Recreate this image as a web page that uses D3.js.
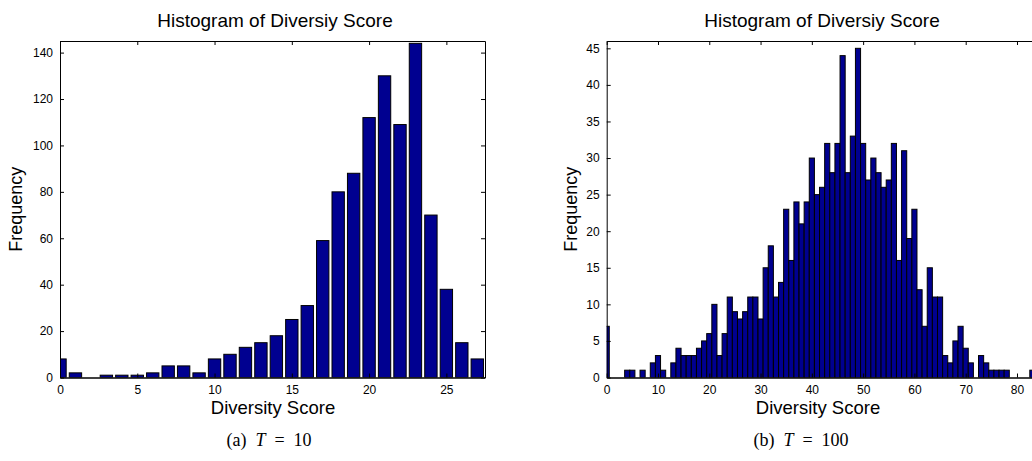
<!DOCTYPE html>
<html>
<head>
<meta charset="utf-8">
<script src="https://cdnjs.cloudflare.com/ajax/libs/d3/7.8.5/d3.min.js"></script>
<style>
  body { margin: 0; background: #fff; }
  svg { display: block; }
  .tick text { font-family: "Liberation Sans", Arial, sans-serif; font-size: 12px; fill: #000; }
  .tick line, .domain { stroke: #000; }
</style>
</head>
<body>
<div id="chart"></div>
<script>
// T = 10 panel (bins 0..27)
var countsT10 = [8, 2, 0, 1, 1, 1, 2, 5, 5, 2, 8, 10, 13, 15, 18, 25, 31, 59, 80, 88, 112, 130, 109, 144, 70, 38, 15, 8];
// T = 100 panel (bins 0..83)
var countsT100 = [7, 0, 0, 0, 1, 1, 0, 1, 0, 2, 3, 1, 0, 2, 4, 3, 3, 3, 4, 5,
    6, 10, 3, 6, 11, 9, 8, 9, 11, 11, 8, 15, 18, 11, 13, 23, 16, 24, 21, 24,
    30, 25, 26, 32, 28, 32, 44, 28, 33, 45, 32, 27, 30, 28, 26, 27, 32, 16, 31, 19,
    23, 12, 7, 15, 11, 11, 3, 2, 5, 7, 4, 2, 0, 3, 2, 1, 1, 1, 1, 0,
    0, 0, 0, 1];

var xTicksT10 = [0, 5, 10, 15, 20, 25];
var yTicksT10 = [0, 20, 40, 60, 80, 100, 120, 140];
var xTicksT100 = [0, 10, 20, 30, 40, 50, 60, 70, 80];
var yTicksT100 = [0, 5, 10, 15, 20, 25, 30, 35, 40, 45];

var titleText = "Histogram of Diversiy Score";
var xLabelText = "Diversity Score";
var yLabelText = "Frequency";

var svgWidth = 1032;
var svgHeight = 461;

var svg = d3.select("#chart")
    .append("svg")
    .attr("width", svgWidth)
    .attr("height", svgHeight);

var barFill = "#000090";
var sans = "'Liberation Sans', Arial, sans-serif";
var serif = "'Liberation Serif', 'Times New Roman', serif";

function drawPanel(opt) {
    var x = d3.scaleLinear().domain(opt.xDomain).range([opt.left, opt.right]);
    var y = d3.scaleLinear().domain(opt.yDomain).range([opt.bottom, opt.top]);

    var g = svg.append("g");

    g.append("clipPath")
        .attr("id", opt.id)
        .append("rect")
        .attr("x", opt.left)
        .attr("y", opt.top)
        .attr("width", opt.right - opt.left)
        .attr("height", opt.bottom - opt.top);

    var data = opt.counts.map(function (c, i) { return { bin: i, count: c }; });

    g.append("g")
        .attr("clip-path", "url(#" + opt.id + ")")
        .selectAll("rect")
        .data(data.filter(d => d.count > 0))
        .enter()
        .append("rect")
        .attr("x", d => x(d.bin - opt.barWidth / 2))
        .attr("y", d => y(d.count))
        .attr("width", d => x(d.bin + opt.barWidth / 2) - x(d.bin - opt.barWidth / 2))
        .attr("height", d => y(0) - y(d.count))
        .attr("fill", barFill)
        .attr("stroke", "#000")
        .attr("stroke-width", 1);

    // box with inward ticks, matlab style
    g.append("g")
        .attr("transform", `translate(0, ${opt.bottom})`)
        .call(d3.axisBottom(x).tickValues(opt.xTicks).tickSizeInner(-4).tickSizeOuter(0).tickPadding(8))
        .call(a => a.select(".domain").attr("stroke-width", 1.5));
    g.append("g")
        .attr("transform", `translate(0, ${opt.top})`)
        .call(d3.axisTop(x).tickValues(opt.xTicks).tickSizeInner(-4).tickSizeOuter(0).tickFormat(""));
    g.append("g")
        .attr("transform", `translate(${opt.left}, 0)`)
        .call(d3.axisLeft(y).tickValues(opt.yTicks).tickSizeInner(-4).tickSizeOuter(0).tickPadding(7));
    g.append("g")
        .attr("transform", `translate(${opt.right}, 0)`)
        .call(d3.axisRight(y).tickValues(opt.yTicks).tickSizeInner(-4).tickSizeOuter(0).tickFormat(""));

    g.selectAll(".tick text").attr("font-family", null).attr("font-size", null);

    g.append("text")
        .attr("x", opt.titleX)
        .attr("y", 27)
        .attr("text-anchor", "middle")
        .attr("font-family", sans)
        .attr("font-size", 19)
        .text(titleText);

    g.append("text")
        .attr("x", opt.xLabelX)
        .attr("y", 414)
        .attr("text-anchor", "middle")
        .attr("font-family", sans)
        .attr("font-size", 18.5)
        .text(xLabelText);

    g.append("text")
        .attr("transform", `translate(${opt.yLabelX}, ${(opt.top + opt.bottom) / 2}) rotate(-90)`)
        .attr("text-anchor", "middle")
        .attr("font-family", sans)
        .attr("font-size", 18)
        .text(yLabelText);

    var cap = g.append("text")
        .attr("x", opt.captionX)
        .attr("y", 446)
        .attr("text-anchor", "middle")
        .attr("font-family", serif)
        .attr("font-size", 18)
        .attr("xml:space", "preserve");
    cap.append("tspan").text(opt.captionTag + "  ");
    cap.append("tspan").attr("font-style", "italic").text("T");
    cap.append("tspan").text("  =  " + opt.captionValue);
}

drawPanel({
    id: "clipA",
    counts: countsT10,
    barWidth: 0.8,
    xDomain: [0, 27.5],
    yDomain: [0, 145],
    xTicks: xTicksT10,
    yTicks: yTicksT10,
    left: 60, right: 485, top: 41, bottom: 377.5,
    titleX: 275, xLabelX: 273, yLabelX: 22, captionX: 269,
    captionTag: "(a)", captionValue: "10"
});

drawPanel({
    id: "clipB",
    counts: countsT100,
    barWidth: 1,
    xDomain: [0, 84],
    yDomain: [0, 46],
    xTicks: xTicksT100,
    yTicks: yTicksT100,
    left: 606.7, right: 1037.5, top: 41, bottom: 377.5,
    titleX: 822, xLabelX: 818, yLabelX: 577, captionX: 801,
    captionTag: "(b)", captionValue: "100"
});
</script>
</body>
</html>
